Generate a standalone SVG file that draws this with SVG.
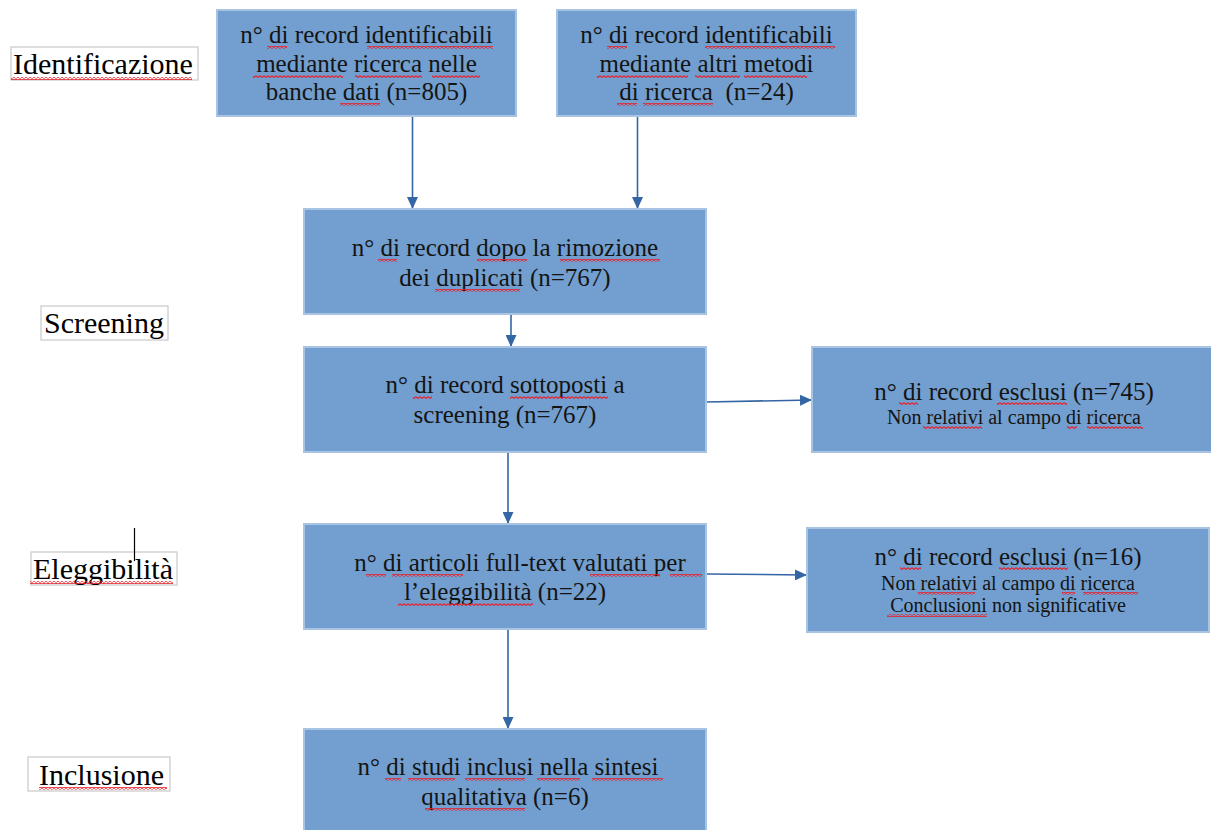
<svg xmlns="http://www.w3.org/2000/svg" width="1211" height="830" viewBox="0 0 1211 830">
<style>
.box{fill:#729fcf;stroke:#a9c3e3;stroke-width:2}
.lbl{fill:#ffffff;stroke:#c9c9c9;stroke-width:1.2}
.t{font-family:"Liberation Serif","Times New Roman",serif;font-size:25px;fill:#141414;text-anchor:middle}
.s{font-family:"Liberation Serif","Times New Roman",serif;font-size:20px;fill:#141414;text-anchor:middle}
.L{font-family:"Liberation Serif","Times New Roman",serif;font-size:30px;fill:#000000}
.c{stroke:#3465a4;stroke-width:1.6;fill:none}
.sq{fill:url(#wave)}
</style>
<defs>
<pattern id="wave" patternUnits="userSpaceOnUse" width="4" height="3">
<path d="M0,0.6 L2,2.4 L4,0.6" stroke="#e8202a" stroke-width="1.2" fill="none"/>
</pattern>
<marker id="ah" viewBox="0 0 12 11" refX="12" refY="5.5" markerWidth="12" markerHeight="11" markerUnits="userSpaceOnUse" orient="auto">
<path d="M0,0 L12,5.5 L0,11 Z" fill="#3465a4"/>
</marker>
</defs>

<g id="label-identificazione">
<rect class="lbl" x="11" y="47" width="187" height="33"/>
<text class="L" x="13" y="74">Identificazione</text>
<rect class="sq" x="11" y="77" width="181" height="3"/>
</g>
<g id="label-screening">
<rect class="lbl" x="41" y="306" width="127" height="34"/>
<text class="L" x="44" y="333">Screening</text>
</g>
<g id="label-eleggibilita">
<rect class="lbl" x="31" y="552" width="146" height="33"/>
<text class="L" x="33" y="579">Eleggibilità</text>
<rect class="sq" x="30" y="581" width="143" height="3"/>
<line x1="134.5" y1="528" x2="134.5" y2="561" stroke="#000" stroke-width="1.2"/>
</g>
<g id="label-inclusione">
<rect class="lbl" x="28" y="757" width="142" height="34"/>
<text class="L" x="39" y="785">Inclusione</text>
<rect class="sq" x="39" y="787" width="128" height="3"/>
</g>

<g id="connectors">
<line class="c" x1="412.5" y1="116" x2="412.5" y2="209" marker-end="url(#ah)"/>
<line class="c" x1="637.5" y1="116" x2="637.5" y2="209" marker-end="url(#ah)"/>
<line class="c" x1="511" y1="314" x2="511" y2="347" marker-end="url(#ah)"/>
<line class="c" x1="508" y1="452" x2="508" y2="524" marker-end="url(#ah)"/>
<line class="c" x1="508" y1="629" x2="508" y2="729" marker-end="url(#ah)"/>
<line class="c" x1="706" y1="402" x2="812" y2="400" marker-end="url(#ah)"/>
<line class="c" x1="706" y1="574" x2="807" y2="575" marker-end="url(#ah)"/>
</g>

<g id="box-banche-dati">
<rect class="box" x="217" y="10" width="299" height="106"/>
<text class="t" x="366.5" y="43">n° di record identificabili</text>
<text class="t" x="366.5" y="72">mediante ricerca nelle</text>
<text class="t" x="366.5" y="100">banche dati (n=805)</text>
<rect class="sq" x="267" y="46" width="20" height="3"/>
<rect class="sq" x="367" y="46" width="126" height="3"/>
<rect class="sq" x="253" y="75" width="90" height="3"/>
<rect class="sq" x="355" y="75" width="67" height="3"/>
<rect class="sq" x="432" y="75" width="48" height="3"/>
<rect class="sq" x="340" y="103" width="40" height="3"/>
</g>

<g id="box-altri-metodi">
<rect class="box" x="557" y="10" width="299" height="106"/>
<text class="t" x="706.5" y="43">n° di record identificabili</text>
<text class="t" x="706.5" y="72">mediante altri metodi</text>
<text class="t" x="706.5" y="100">di ricerca&#160; (n=24)</text>
<rect class="sq" x="607" y="46" width="20" height="3"/>
<rect class="sq" x="705" y="46" width="130" height="3"/>
<rect class="sq" x="597" y="75" width="91" height="3"/>
<rect class="sq" x="695" y="75" width="45" height="3"/>
<rect class="sq" x="744" y="75" width="63" height="3"/>
<rect class="sq" x="617" y="103" width="20" height="3"/>
<rect class="sq" x="643" y="103" width="70" height="3"/>
</g>

<g id="box-duplicati">
<rect class="box" x="304" y="209" width="402" height="105"/>
<text class="t" x="505" y="256">n° di record dopo la rimozione</text>
<text class="t" x="505" y="286">dei duplicati (n=767)</text>
<rect class="sq" x="378" y="259" width="19" height="3"/>
<rect class="sq" x="477" y="259" width="50" height="3"/>
<rect class="sq" x="560" y="259" width="100" height="3"/>
<rect class="sq" x="435" y="289" width="85" height="3"/>
</g>

<g id="box-screening">
<rect class="box" x="304" y="347" width="402" height="105"/>
<text class="t" x="505" y="393">n° di record sottoposti a</text>
<text class="t" x="505" y="423">screening (n=767)</text>
<rect class="sq" x="413" y="396" width="19" height="3"/>
<rect class="sq" x="510" y="396" width="98" height="3"/>
</g>

<g id="box-esclusi-745">
<rect class="box" x="812" y="347" width="402" height="105"/>
<text class="t" x="1014" y="400">n° di record esclusi (n=745)</text>
<text class="s" x="1014" y="424">Non relativi al campo di ricerca</text>
<rect class="sq" x="899" y="402" width="19" height="3"/>
<rect class="sq" x="997" y="402" width="70" height="3"/>
<rect class="sq" x="923" y="426" width="59" height="3"/>
<rect class="sq" x="1067" y="426" width="10" height="3"/>
<rect class="sq" x="1087" y="426" width="56" height="3"/>
</g>

<g id="box-full-text">
<rect class="box" x="304" y="524" width="402" height="105"/>
<text class="t" x="520" y="571">n° di articoli full-text valutati per</text>
<text class="t" x="505" y="600">l’eleggibilità (n=22)</text>
<rect class="sq" x="366" y="574" width="20" height="3"/>
<rect class="sq" x="392" y="574" width="71" height="3"/>
<rect class="sq" x="590" y="574" width="70" height="3"/>
<rect class="sq" x="670" y="574" width="32" height="3"/>
<rect class="sq" x="398" y="603" width="135" height="3"/>
</g>

<g id="box-esclusi-16">
<rect class="box" x="807" y="528" width="402" height="104"/>
<text class="t" x="1008" y="565">n° di record esclusi (n=16)</text>
<text class="s" x="1008" y="590">Non relativi al campo di ricerca</text>
<text class="s" x="1008" y="612">Conclusioni non significative</text>
<rect class="sq" x="900" y="567" width="21" height="3"/>
<rect class="sq" x="999" y="567" width="69" height="3"/>
<rect class="sq" x="918" y="592" width="57" height="3"/>
<rect class="sq" x="1062" y="592" width="13" height="3"/>
<rect class="sq" x="1083" y="592" width="55" height="3"/>
<rect class="sq" x="887" y="614" width="100" height="3"/>
</g>

<g id="box-inclusi">
<rect class="box" x="304" y="729" width="402" height="110"/>
<text class="t" x="508" y="775">n° di studi inclusi nella sintesi</text>
<text class="t" x="505" y="805">qualitativa (n=6)</text>
<rect class="sq" x="385" y="778" width="16" height="3"/>
<rect class="sq" x="408" y="778" width="47" height="3"/>
<rect class="sq" x="465" y="778" width="60" height="3"/>
<rect class="sq" x="537" y="778" width="43" height="3"/>
<rect class="sq" x="592" y="778" width="71" height="3"/>
<rect class="sq" x="425" y="808" width="100" height="3"/>
</g>
</svg>
